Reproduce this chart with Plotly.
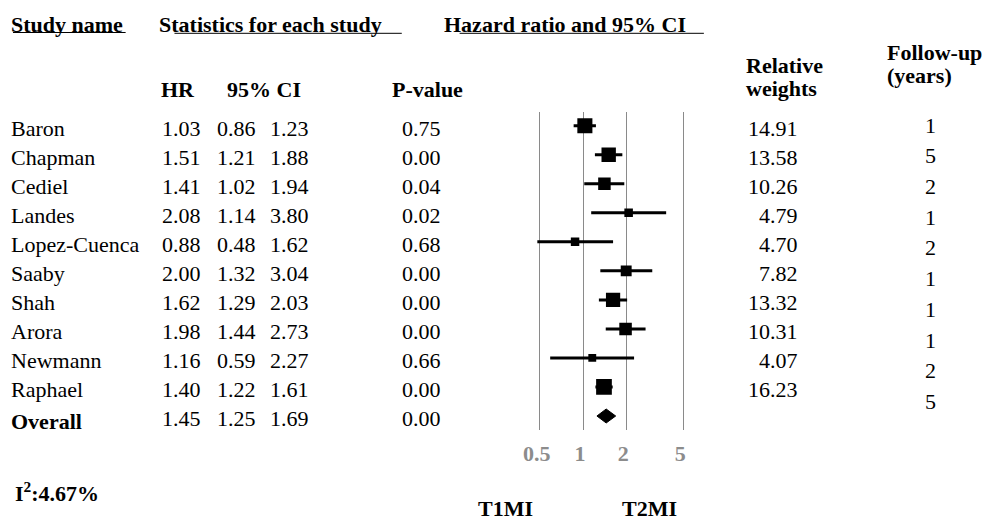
import math
import plotly.graph_objects as go

# ---------------- data ----------------
studies = ["Baron", "Chapman", "Cediel", "Landes", "Lopez-Cuenca", "Saaby",
           "Shah", "Arora", "Newmann", "Raphael"]
hr = [1.03, 1.51, 1.41, 2.08, 0.88, 2.00, 1.62, 1.98, 1.16, 1.40]
ci_low = [0.86, 1.21, 1.02, 1.14, 0.48, 1.32, 1.29, 1.44, 0.59, 1.22]
ci_high = [1.23, 1.88, 1.94, 3.80, 1.62, 3.04, 2.03, 2.73, 2.27, 1.61]
p_values = [0.75, 0.00, 0.04, 0.02, 0.68, 0.00, 0.00, 0.00, 0.66, 0.00]
weights = [14.91, 13.58, 10.26, 4.79, 4.70, 7.82, 13.32, 10.31, 4.07, 16.23]
followup = [1, 5, 2, 1, 2, 1, 1, 1, 2, 5]
overall_label = "Overall"
overall_hr = 1.45
overall_low = 1.25
overall_high = 1.69
overall_p = 0.00
i_squared = 4.67
tick_vals = [0.5, 1, 2, 5]
tick_text = ["0.5", "1", "2", "5"]

# ---------------- layout helpers ----------------
W, H = 995, 523
FONT = "Liberation Serif, Times New Roman, serif"
FS = 22
XPAD = 4  # annotation inner padding compensation


def px(x):
    return x / W


def py(y):
    return 1 - y / H


n = len(studies)
rows = list(range(n))
overall_row = n

fig = go.Figure()

# CI lines
cx, cy = [], []
for i in rows:
    cx += [ci_low[i], ci_high[i], None]
    cy += [i, i, None]
fig.add_trace(go.Scatter(x=cx, y=cy, mode="lines",
                         line=dict(color="black", width=3),
                         hoverinfo="skip"))

# weight boxes
fig.add_trace(go.Scatter(
    x=hr, y=rows, mode="markers",
    marker=dict(symbol="square", color="black", opacity=1,
                size=[3.9 * math.sqrt(w) for w in weights],
                line=dict(width=0)),
    text=studies, hoverinfo="text+x"))

# overall diamond
dh = 0.24
fig.add_trace(go.Scatter(
    x=[overall_low, overall_hr, overall_high, overall_hr, overall_low],
    y=[overall_row, overall_row - dh, overall_row, overall_row + dh, overall_row],
    mode="lines", fill="toself", fillcolor="black",
    line=dict(color="black", width=1), hoverinfo="skip"))

ann = []


def text(x, y, s, bold=False, xanchor="left", yref="paper",
         size=FS, color="black", yanchor="middle"):
    if xanchor == "left":
        x = x - px(XPAD)
    ann.append(dict(x=x, y=y, xref="paper", yref=yref, text=s, showarrow=False,
                    xanchor=xanchor, yanchor=yanchor, align="left",
                    font=dict(family=FONT, size=size, color=color,
                              weight="bold" if bold else "normal")))


# headers
text(px(10), py(24), "Study name", bold=True)
text(px(158), py(24), "Statistics for each study", bold=True)
text(px(444), py(24), "Hazard ratio and 95% CI", bold=True)
text(px(160), py(89), "HR", bold=True)
text(px(227), py(89), "95% CI", bold=True)
text(px(392), py(89), "P-value", bold=True)
text(px(747), py(65), "Relative", bold=True)
text(px(747), py(88), "weights", bold=True)
text(px(889), py(52), "Follow-up", bold=True)
text(px(889), py(75), "(years)", bold=True)

# table rows
toff = 0.08
for i in rows:
    yy = i + toff
    text(px(10), yy, studies[i], yref="y")
    text(px(161), yy, f"{hr[i]:.2f}", yref="y")
    text(px(217), yy, f"{ci_low[i]:.2f}", yref="y")
    text(px(270), yy, f"{ci_high[i]:.2f}", yref="y")
    text(px(402), yy, f"{p_values[i]:.2f}", yref="y")
    text(px(799), yy, f"{weights[i]:.2f}", yref="y", xanchor="right")
    text(px(930), i * 1.0575 - 0.02, str(followup[i]), yref="y", xanchor="center")

yy = overall_row + toff
text(px(10), yy + 0.12, overall_label, bold=True, yref="y")
text(px(161), yy, f"{overall_hr:.2f}", yref="y")
text(px(217), yy, f"{overall_low:.2f}", yref="y")
text(px(270), yy, f"{overall_high:.2f}", yref="y")
text(px(402), yy, f"{overall_p:.2f}", yref="y")

text(px(14), py(492), f"I<sup>2</sup>:{i_squared:.2f}%", bold=True)
text(px(478), 0, "T1MI", bold=True, yanchor="bottom")
text(px(623), 0, "T2MI", bold=True, yanchor="bottom")

shapes = [
    dict(type="line", xref="paper", yref="paper", x0=px(10), x1=px(123),
         y0=py(32.5), y1=py(32.5), line=dict(color="black", width=1)),
    dict(type="line", xref="paper", yref="paper", x0=px(172), x1=px(400),
         y0=py(33.3), y1=py(33.3), line=dict(color="black", width=1)),
    dict(type="line", xref="paper", yref="paper", x0=px(458), x1=px(703),
         y0=py(33.3), y1=py(33.3), line=dict(color="black", width=1)),
]

x_lo, x_hi = 0.4, 6.0
ppd = (682.3 - 538.5) / (math.log10(5) - math.log10(0.5))
left_px = 538.5 - (math.log10(0.5) - math.log10(x_lo)) * ppd
right_px = 682.3 + (math.log10(x_hi) - math.log10(5)) * ppd

y_top_px, y_bot_px = 112, 430
row0_px, row_step = 125.7, 29.03
y_top = (y_top_px - row0_px) / row_step
y_bot = (y_bot_px - row0_px) / row_step

fig.update_layout(
    width=W, height=H,
    margin=dict(l=0, r=0, t=0, b=0),
    paper_bgcolor="white", plot_bgcolor="white",
    showlegend=False,
    annotations=ann, shapes=shapes,
    xaxis=dict(type="log", range=[math.log10(x_lo), math.log10(x_hi)],
               domain=[left_px / W, right_px / W],
               tickvals=tick_vals, ticktext=tick_text,
               showgrid=True, gridcolor="#8a8a8a", gridwidth=1,
               zeroline=False, showline=False, ticks="",
               ticklabelstandoff=8, ticklabelshift=-3,
               tickfont=dict(family=FONT, size=FS, color="#8c8c8c",
                             weight="bold")),
    yaxis=dict(range=[y_bot, y_top],
               domain=[1 - y_bot_px / H, 1 - y_top_px / H],
               visible=False, showgrid=False, zeroline=False),
)

fig.write_html("out.html",
               config={"displayModeBar": False},
               post_script="document.body.style.margin='0';"
                           "document.body.style.overflow='hidden';")
